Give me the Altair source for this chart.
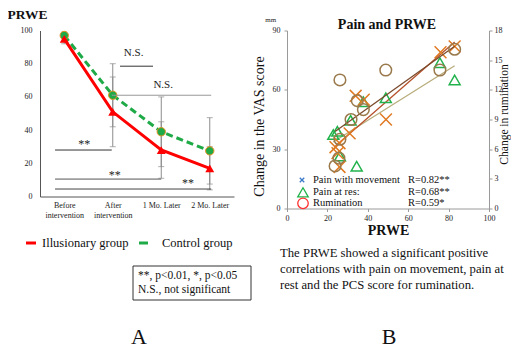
import json
import altair as alt
import pandas as pd

FONT = "Liberation Serif"

# ---------------- Panel A data ----------------
categories = [["Before", "intervention"], ["After", "intervention"], ["1 Mo. Later"], ["2 Mo. Later"]]
positions = [0, 1, 2, 3]
illusionary = [95, 51, 28, 17]
illusionary_sd = [3, 21, 17, 13]
control = [97, 61, 39, 27.5]
control_sd = [2, 19, 21, 20]
a_ticks = [0, 20, 40, 60, 80, 100]

bracket_x1 = [1.15, 0.98, -0.19, -0.19, -0.19]
bracket_x2 = [1.83, 3.03, 0.98, 2.0, 3.03]
bracket_y = [78.5, 61, 28, 10.5, 4.5]
bracket_col = ["#333333", "#999999", "#333333", "#555555", "#444444"]
ns_labels = ["N.S.", "N.S."]
ns_x = [1.43, 2.04]
ns_y = [86.5, 67.2]
star_labels = ["**", "**", "**"]
star_x = [0.41, 1.04, 2.55]
star_y = [29.1, 10.4, 6.0]

# ---------------- Panel B data ----------------
move_prwe = [83, 76, 34, 38, 49, 31, 26, 24, 25, 26]
move_vas = [82, 79, 57, 55, 45, 38, 33, 31, 28, 21]
rest_prwe = [83, 75.7, 48.9, 37.8, 31.5, 24.9, 22.9, 26.2, 34.5]
rest_vas = [65, 73.7, 56, 54, 44.6, 39, 37.4, 26.5, 21.4]
rum_prwe = [83, 75.7, 48.9, 26.2, 34.8, 37.8, 31.7, 26.2, 25.7, 23.8]
rum_score = [16.1, 14, 14, 13, 10.9, 10, 9, 7, 5.1, 4.3]
b_x_ticks = [0, 20, 40, 60, 80, 100]
b_left_ticks = [0, 30, 60, 90]
b_right_ticks = [0, 3, 6, 9, 12, 15, 18]
legend_b_labels = ["Pain with movement", "Pain at res:", "Rumination"]
legend_b_r = ["R=0.82**", "R=0.68**", "R=0.59*"]
caption_b = ["The PRWE showed a significant positive",
             "correlations with pain on movement, pain at",
             "rest and the PCS score for rumination."]

RED = "#ff0000"
GREEN = "#1faa48"
ORANGE_EDGE = "#e8901e"
XCOL = "#e07a22"
TRI = "#22b24c"
CIRC = "#9a7a4c"

one = pd.DataFrame({"k": [0]})

# ================= Panel A =================
WA, HA = 194, 166
scA_x = alt.Scale(domain=[-0.5, 3.5], nice=False, zero=False)
scA_y = alt.Scale(domain=[0, 100], nice=False)
axA_x = alt.Axis(values=positions, labelExpr=f"{json.dumps(categories)}[datum.value]",
                 title=None, grid=False, ticks=False, domainColor="#555", labelFont=FONT,
                 labelFontSize=8, labelColor="#222", labelLineHeight=10, labelPadding=5,
                 labelOverlap=False, labelFlush=False)
axA_y = alt.Axis(values=a_ticks, title=None, grid=False, ticks=False, domainColor="#555",
                 labelFont=FONT, labelFontSize=8, labelColor="#222", labelPadding=8,
                 labelOverlap=False, labelFlush=False)


def XA(f):
    return alt.X(f, scale=scA_x, axis=axA_x)


def YA(f):
    return alt.Y(f, scale=scA_y, axis=axA_y)


rows = []
for i in range(4):
    rows.append({"pos": positions[i], "val": illusionary[i], "sd": illusionary_sd[i], "g": "Illusionary group"})
    rows.append({"pos": positions[i], "val": control[i], "sd": control_sd[i], "g": "Control group"})
dfA = pd.DataFrame(rows)
dfA["lo"] = dfA["val"] - dfA["sd"]
dfA["hi"] = dfA["val"] + dfA["sd"]
dfI = dfA[dfA.g == "Illusionary group"]
dfC = dfA[dfA.g == "Control group"]

err = alt.Chart(dfA).mark_rule(color="#8c8c8c", strokeWidth=1).encode(
    x=XA("pos:Q"), y=YA("lo:Q"), y2="hi:Q")
cap_lo = alt.Chart(dfA).mark_tick(color="#8c8c8c", orient="horizontal", size=6, thickness=1).encode(
    x=XA("pos:Q"), y=YA("lo:Q"))
cap_hi = alt.Chart(dfA).mark_tick(color="#8c8c8c", orient="horizontal", size=6, thickness=1).encode(
    x=XA("pos:Q"), y=YA("hi:Q"))

c_line = alt.Chart(dfC).mark_line(color=GREEN, strokeWidth=3, strokeDash=[7, 4]).encode(
    x=XA("pos:Q"), y=YA("val:Q"))
c_pts = alt.Chart(dfC).mark_point(shape="circle", filled=True, size=70, fill=GREEN, stroke=ORANGE_EDGE,
                                  strokeWidth=1, opacity=1).encode(x=XA("pos:Q"), y=YA("val:Q"))
i_line = alt.Chart(dfI).mark_line(color=RED, strokeWidth=3).encode(x=XA("pos:Q"), y=YA("val:Q"))
i_pts = alt.Chart(dfI).mark_point(shape="triangle-up", filled=True, size=80, color=RED, opacity=1).encode(
    x=XA("pos:Q"), y=YA("val:Q"))

dfBr = pd.DataFrame({"x1": bracket_x1, "x2": bracket_x2, "y": bracket_y, "c": bracket_col})
brackets = alt.Chart(dfBr).mark_rule(strokeWidth=1).encode(
    x=XA("x1:Q"), x2="x2:Q", y=YA("y:Q"), color=alt.Color("c:N", scale=None))
dfNS = pd.DataFrame({"t": ns_labels, "x": ns_x, "y": ns_y})
ns_text = alt.Chart(dfNS).mark_text(font=FONT, fontSize=11, baseline="middle", color="#222").encode(
    x=XA("x:Q"), y=YA("y:Q"), text="t:N")
dfST = pd.DataFrame({"t": star_labels, "x": star_x, "y": star_y})
st_text = alt.Chart(dfST).mark_text(font=FONT, fontSize=12, baseline="alphabetic", color="#222").encode(
    x=XA("x:Q"), y=YA("y:Q"), text="t:N")

titleA = alt.Chart(one).mark_text(text="PRWE", font=FONT, fontSize=13.5, fontWeight="bold",
                                  align="left", baseline="alphabetic", color="#111").encode(
    x=alt.value(-32.5), y=alt.value(-12))
legA_red = alt.Chart(one).mark_rule(color=RED, strokeWidth=3).encode(
    x=alt.value(-14), x2=alt.value(-4), y=alt.value(212.5))
legA_red_t = alt.Chart(one).mark_text(text="Illusionary group", font=FONT, fontSize=12.5, align="left",
                                      baseline="middle", color="#111").encode(x=alt.value(2), y=alt.value(212.5))
legA_grn = alt.Chart(one).mark_rule(color=GREEN, strokeWidth=3).encode(
    x=alt.value(99), x2=alt.value(108), y=alt.value(212.5))
legA_grn_t = alt.Chart(one).mark_text(text="Control group", font=FONT, fontSize=12.5, align="left",
                                      baseline="middle", color="#111").encode(x=alt.value(122), y=alt.value(212.5))
boxA = alt.Chart(one).mark_rect(fill="white", stroke="#333", strokeWidth=1).encode(
    x=alt.value(93), x2=alt.value(211), y=alt.value(235.5), y2=alt.value(269.5))
boxA_t1 = alt.Chart(one).mark_text(text="**, p<0.01, *, p<0.05", font=FONT, fontSize=11.5, align="left",
                                   baseline="middle", color="#111").encode(x=alt.value(98), y=alt.value(245.5))
boxA_t2 = alt.Chart(one).mark_text(text="N.S., not significant", font=FONT, fontSize=11.5, align="left",
                                   baseline="middle", color="#111").encode(x=alt.value(98), y=alt.value(259.5))
letterA = alt.Chart(one).mark_text(text="A", font=FONT, fontSize=22, align="center",
                                   baseline="alphabetic", color="#111").encode(x=alt.value(99), y=alt.value(313.5))

panelA = alt.layer(err, cap_lo, cap_hi, c_line, c_pts, i_line, i_pts, brackets, ns_text, st_text,
                   titleA, legA_red, legA_red_t, legA_grn, legA_grn_t, boxA, boxA_t1, boxA_t2, letterA
                   ).properties(width=WA, height=HA)

# ================= Panel B =================
WB, HB = 202, 178
AX_GRAY = "#9a9a9a"
scB_x = alt.Scale(domain=[0, 100], nice=False)
scB_l = alt.Scale(domain=[0, 90], nice=False)
scB_r = alt.Scale(domain=[0, 18], nice=False)
axB_x = alt.Axis(values=b_x_ticks, title="PRWE", titleFont=FONT, titleFontSize=14,
                 titleFontWeight="bold", titleColor="#111", titlePadding=1, grid=False,
                 tickSize=3, tickColor=AX_GRAY, domainColor=AX_GRAY, labelFont=FONT,
                 labelFontSize=8, labelColor="#222", labelPadding=3,
                 labelOverlap=False, labelFlush=False)
axB_l = alt.Axis(values=b_left_ticks, title="Change in the VAS score", titleFont=FONT,
                 titleFontSize=14, titleFontWeight="normal", titleColor="#111", titleAngle=270,
                 titleX=-28, titleY=95.5, titleBaseline="middle", titleAlign="center",
                 grid=False, tickSize=3, tickColor=AX_GRAY, domainColor=AX_GRAY,
                 labelFont=FONT, labelFontSize=8, labelColor="#222", labelPadding=4,
                 labelOverlap=False, labelFlush=False)
axB_r = alt.Axis(orient="right", values=b_right_ticks, title="Change in rumination",
                 titleFont=FONT, titleFontSize=11.5, titleFontWeight="normal", titleColor="#111",
                 titleAngle=270, titleX=15, titleY=83.5, titleBaseline="middle", titleAlign="center",
                 grid=False, tickSize=3, tickColor=AX_GRAY, domainColor=AX_GRAY,
                 labelFont=FONT, labelFontSize=8, labelColor="#222", labelPadding=2,
                 labelOverlap=False, labelFlush=False)


def XB(f):
    return alt.X(f, scale=scB_x, axis=axB_x)


def YL(f):
    return alt.Y(f, scale=scB_l, axis=axB_l)


def YR(f):
    return alt.Y(f, scale=scB_r, axis=axB_r)


dfMove = pd.DataFrame({"prwe": move_prwe, "vas": move_vas})
dfRest = pd.DataFrame({"prwe": rest_prwe, "vas": rest_vas})
dfRum = pd.DataFrame({"prwe": rum_prwe, "rum": rum_score})

X_PATH = "M-1,-1L1,1M-1,1L1,-1"
rest_reg = alt.Chart(dfRest).transform_regression("prwe", "vas").mark_line(
    color="#b9ad7c", strokeWidth=1.3).encode(x=XB("prwe:Q"), y=YL("vas:Q"))
move_reg = alt.Chart(dfMove).transform_regression("prwe", "vas").mark_line(
    color="#b5512b", strokeWidth=1.3).encode(x=XB("prwe:Q"), y=YL("vas:Q"))
move_pts = alt.Chart(dfMove).mark_point(shape=X_PATH, filled=False, size=140, color=XCOL,
                                        strokeWidth=1.5, opacity=1).encode(x=XB("prwe:Q"), y=YL("vas:Q"))
rest_pts = alt.Chart(dfRest).mark_point(shape="triangle-up", filled=False, size=120, color=TRI,
                                        strokeWidth=1.5, opacity=1).encode(x=XB("prwe:Q"), y=YL("vas:Q"))
left = alt.layer(rest_reg, move_reg, rest_pts, move_pts)

rum_reg = alt.Chart(dfRum).transform_regression("prwe", "rum").mark_line(
    color="#7b4a2c", strokeWidth=1.3).encode(x=XB("prwe:Q"), y=YR("rum:Q"))
rum_pts = alt.Chart(dfRum).mark_point(shape="circle", filled=False, size=135, color=CIRC,
                                      strokeWidth=1.5, opacity=1).encode(x=XB("prwe:Q"), y=YR("rum:Q"))
right = alt.layer(rum_reg, rum_pts)

mm = alt.Chart(one).mark_text(text="mm", font=FONT, fontSize=7, align="center", baseline="middle",
                              color="#222").encode(x=alt.value(-16.3), y=alt.value(-10.5))
titleB = alt.Chart(one).mark_text(text="Pain and PRWE", font=FONT, fontSize=14, fontWeight="bold",
                                  align="center", baseline="alphabetic", color="#111").encode(
    x=alt.value(100), y=alt.value(-1.5))

leg_y = [149.5, 161.8, 172.8]
legB_x = alt.Chart(one).mark_point(shape=X_PATH, filled=False, size=20, color="#3a78c8", strokeWidth=1.3,
                                   opacity=1).encode(x=alt.value(15), y=alt.value(leg_y[0]))
legB_tri = alt.Chart(one).mark_point(shape="triangle-up", filled=False, size=110, color=TRI, strokeWidth=1.3,
                                     opacity=1).encode(x=alt.value(16), y=alt.value(leg_y[1]))
legB_circ = alt.Chart(one).mark_point(shape="circle", filled=False, size=110, color="#ff3030", strokeWidth=1.3,
                                      opacity=1).encode(x=alt.value(16), y=alt.value(leg_y[2]))
legB_texts = []
for i in range(3):
    legB_texts.append(alt.Chart(one).mark_text(text=legend_b_labels[i], font=FONT, fontSize=10.5, align="left",
                                               baseline="middle", color="#111").encode(
        x=alt.value(26), y=alt.value(leg_y[i])))
    legB_texts.append(alt.Chart(one).mark_text(text=legend_b_r[i], font=FONT, fontSize=10.5, align="left",
                                               baseline="middle", color="#111").encode(
        x=alt.value(121), y=alt.value(leg_y[i])))
cap_texts = []
for i, line in enumerate(caption_b):
    cap_texts.append(alt.Chart(one).mark_text(text=line, font=FONT, fontSize=12.7, align="left",
                                              baseline="alphabetic", color="#111").encode(
        x=alt.value(-7), y=alt.value(226.5 + 16 * i)))
letterB = alt.Chart(one).mark_text(text="B", font=FONT, fontSize=22, align="center",
                                   baseline="alphabetic", color="#111").encode(x=alt.value(102), y=alt.value(313.5))

panelB = alt.layer(left, right, mm, titleB, legB_x, legB_tri, legB_circ, *legB_texts, *cap_texts, letterB
                   ).resolve_scale(y="independent").properties(width=WB, height=HB)

PAD_L, PAD_T = 32, 22.5
chart = alt.hconcat(panelA, panelB, spacing=53, bounds="flush").properties(
    autosize=alt.AutoSizeParams(type="none"),
    padding={"left": PAD_L, "top": PAD_T, "right": 503 - PAD_L, "bottom": 341 - PAD_T},
    background="white"
).configure_view(stroke=None).configure_axis(labelOverlap=False, labelFlush=False)

chart.save("out.html", embed_options={"renderer": "svg", "actions": False})
